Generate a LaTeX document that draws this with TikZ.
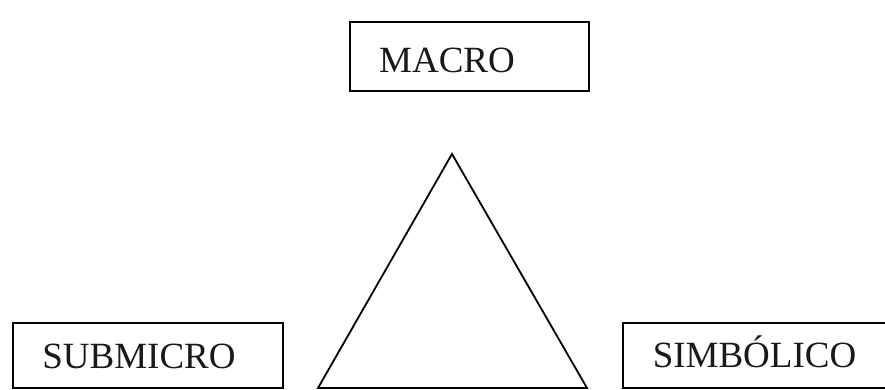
\documentclass[tikz,border=0pt]{standalone}
\usepackage{fontspec}
\setmainfont{Liberation Serif}
\tikzset{
  boxshape/.style={draw=black, line width=2pt, rectangle, inner sep=0pt},
  lbl/.style={font=\fontsize{37}{40}\selectfont, text=black!90, inner sep=0pt, anchor=base},
  tri/.style={draw=black, line width=1.8pt, line join=miter}
}
\begin{document}
\begin{tikzpicture}[x=1pt,y=-1pt]
\useasboundingbox (0,0) rectangle (885,390);
\clip (0,0) rectangle (885,390);
% boxes
\node[boxshape, minimum width=239pt, minimum height=69pt] (macro) at (469.5,56.5) {};
\node[lbl] (macrot) at (447,73) {MACRO};
\node[boxshape, minimum width=270pt, minimum height=65pt] (submicro) at (148,355.5) {};
\node[lbl] (submicrot) at (139,368) {SUBMICRO};
\node[boxshape, minimum width=270pt, minimum height=65pt] (simbolico) at (758,355.5) {};
\node[lbl] (simbolicot) at (754.5,367) {SIMBÓLICO};
% triangle
\coordinate (apex) at (452,154);
\coordinate (bl) at (318,388);
\coordinate (br) at (587,388);
\draw[tri] (apex) -- (bl) -- (br) -- cycle;
\end{tikzpicture}
\end{document}
